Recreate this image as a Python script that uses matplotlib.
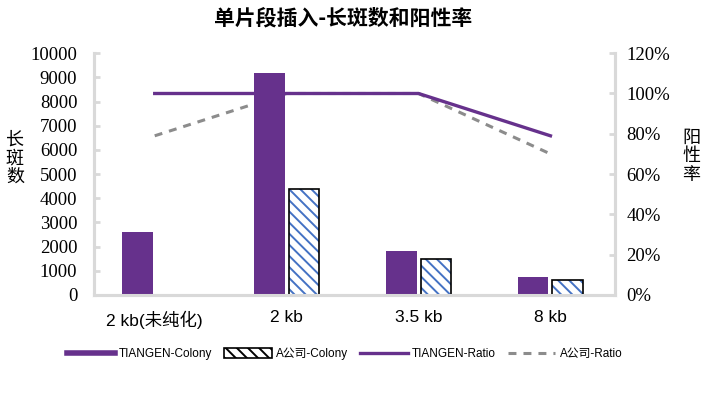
import numpy as np
import matplotlib
matplotlib.use('Agg')
import matplotlib.pyplot as plt
from matplotlib.lines import Line2D

plt.rcParams['font.family'] = ['Liberation Sans', 'Noto Sans CJK SC', 'DejaVu Sans']
plt.rcParams['hatch.linewidth'] = 1.4

# datos
categorias = ['2 kb(未纯化)', '2 kb', '3.5 kb', '8 kb']
tiangen_colony = [2600, 9200, 1800, 750]
a_colony = [np.nan, 4400, 1500, 600]
tiangen_ratio = [1.00, 1.00, 1.00, 0.79]
a_ratio = [0.79, 1.00, 1.00, 0.70]

morado = '#66318c'
azul = '#4472c4'
gris_eje = '#d9d9d9'

fig = plt.figure(figsize=(7.07, 3.97), dpi=100)
ax = fig.add_axes([0.133, 0.257, 0.737, 0.609])
ax2 = ax.twinx()

x = np.arange(len(categorias))
w = 0.23
d = 0.13

# barras
ax.bar(x - d, tiangen_colony, w, color=morado, linewidth=0)
ax.bar(x + d, a_colony, w, color='white', edgecolor=azul, hatch='\\\\\\', linewidth=0)
barras_a = ax.bar(x + d, a_colony, w, color='none', edgecolor='black', linewidth=1.2)

# lineas de porcentaje (debajo de las barras)
l_a, = ax2.plot(x, a_ratio, color='#8c8c8c', lw=2.2, dashes=(2.6, 2.3))
l_t, = ax2.plot(x, tiangen_ratio, color=morado, lw=2.4)
ax.set_zorder(ax2.get_zorder() + 1)
ax.patch.set_visible(False)

ax.set_xlim(-0.46, 3.49)
ax.set_ylim(0, 10000)
ax.set_yticks(np.arange(0, 10001, 1000))
ax2.set_ylim(0, 1.2)
ax2.set_yticks(np.arange(0, 1.21, 0.2))
ax2.set_yticklabels(['%d%%' % round(v * 100) for v in np.arange(0, 1.21, 0.2)])

ax.set_xticks(x)
ax.set_xticklabels(categorias, fontsize=12.5)
ax.tick_params(axis='x', length=0, pad=11)

for a in (ax, ax2):
    for s in a.spines.values():
        s.set_color(gris_eje)
        s.set_linewidth(2.2)
    a.spines['top'].set_visible(False)

ax.tick_params(axis='y', direction='in', length=4, width=2, color=gris_eje, pad=12)
ax2.tick_params(axis='y', direction='in', length=4, width=2, color=gris_eje, pad=8)
for lab in ax.get_yticklabels() + ax2.get_yticklabels():
    lab.set_family('Liberation Serif')
    lab.set_fontsize(13.5)

ax.set_ylabel('长\n斑\n数', rotation=0, fontsize=13, family='Noto Sans CJK SC', linespacing=1.05, va='center')
ax.yaxis.set_label_coords(-0.152, 0.566)
ax2.set_ylabel('阳\n性\n率', rotation=0, fontsize=13, family='Noto Sans CJK SC', linespacing=1.05, va='center')
ax2.yaxis.set_label_coords(1.146, 0.574)

fig.text(0.485, 0.955, '单片段插入-长斑数和阳性率', ha='center', va='center', fontsize=15,
         fontweight='bold', family=['Noto Sans CJK SC', 'DejaVu Sans'])

# leyenda
h_t = Line2D([], [], color=morado, lw=4)
fig.legend([h_t, barras_a.patches[1], l_t, l_a],
           ['TIANGEN-Colony', 'A公司-Colony', 'TIANGEN-Ratio', 'A公司-Ratio'],
           loc='center', bbox_to_anchor=(0.488, 0.108), ncol=4, frameon=False,
           fontsize=8.5, handlelength=4.0, handleheight=0.9, columnspacing=1.0, handletextpad=0.4)

# parche de leyenda con rayado
leg = fig.legends[0]
ph = leg.legend_handles[1]
ph.set_facecolor('white')
ph.set_hatch('\\\\\\')
ph.set_edgecolor('black')

fig.savefig('out.png', dpi=100)
